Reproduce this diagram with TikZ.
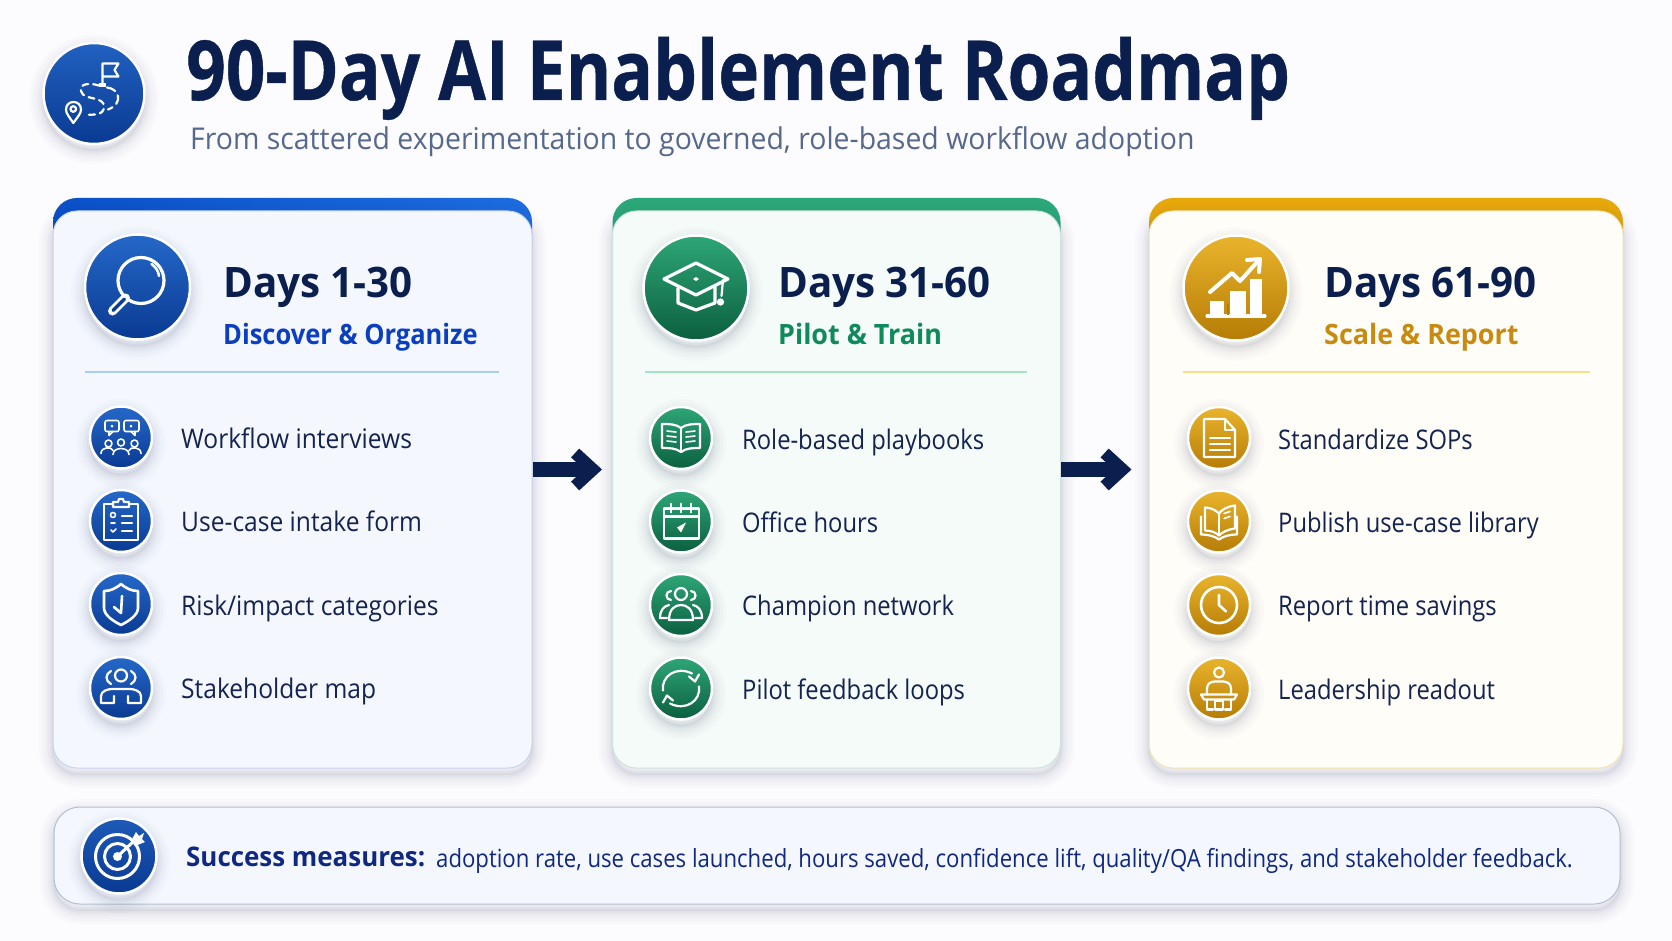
\documentclass[tikz,border=0pt]{standalone}
\usepackage{fontspec}
\usetikzlibrary{arrows.meta}
\setmainfont{Open Sans}
\newfontfamily\titleopen[FakeStretch=0.835,FakeBold=0.5]{Open Sans}
\newfontfamily\leadopen[FakeStretch=0.947]{Open Sans}
\newfontfamily\headopen[FakeStretch=0.96]{Open Sans}
\newfontfamily\blueopen[FakeStretch=0.91]{Open Sans}
\newfontfamily\bodyopen[FakeStretch=0.88]{Open Sans}
\newfontfamily\bandopen[FakeStretch=0.886]{Open Sans}

\definecolor{pagebg}{HTML}{FCFCFE}
\definecolor{inkdark}{HTML}{0B1F4F}
\definecolor{inktext}{HTML}{14234F}
\definecolor{subgrey}{HTML}{56698C}
\definecolor{blueedge}{HTML}{C6D4EC}
\definecolor{greenedge}{HTML}{CDE3DB}
\definecolor{goldedge}{HTML}{F3E2B2}
\definecolor{bluecard}{HTML}{F4F8FE}
\definecolor{greencard}{HTML}{F4FBF8}
\definecolor{goldcard}{HTML}{FEFDF8}
\definecolor{bluetop}{HTML}{2568C8}
\definecolor{bluelow}{HTML}{0A3A92}
\definecolor{greentop}{HTML}{2EA677}
\definecolor{greenlow}{HTML}{0B5F3F}
\definecolor{goldtop}{HTML}{E9B42C}
\definecolor{goldlow}{HTML}{B67C06}
\definecolor{bluetext}{HTML}{0B3FBF}
\definecolor{greentext}{HTML}{0F8A5A}
\definecolor{goldtext}{HTML}{C98A10}
\definecolor{navytext}{HTML}{10287F}
\definecolor{bluecapa}{HTML}{0A50C8}
\definecolor{bluecapb}{HTML}{1C6CE0}
\definecolor{greencap}{HTML}{2BA87A}
\definecolor{goldcap}{HTML}{E9A80A}
\definecolor{bluerule}{HTML}{A9CEF5}
\definecolor{greenrule}{HTML}{A5E3C5}
\definecolor{goldrule}{HTML}{FBDD8A}
\definecolor{casttint}{HTML}{33446E}

\tikzset{
  softcast/.style={
    preaction={draw=casttint,draw opacity=.02,line width=28pt,transform canvas={yshift=-6pt}},
    preaction={draw=casttint,draw opacity=.02,line width=22pt,transform canvas={yshift=-6pt}},
    preaction={draw=casttint,draw opacity=.025,line width=16pt,transform canvas={yshift=-6pt}},
    preaction={draw=casttint,draw opacity=.03,line width=11pt,transform canvas={yshift=-6pt}},
    preaction={draw=casttint,draw opacity=.04,line width=6pt,transform canvas={yshift=-6pt}},
    preaction={draw=casttint,draw opacity=.05,line width=2pt,transform canvas={yshift=-6pt}}},
  cardbody/.style={rectangle,rounded corners=24pt,inner sep=0pt,line width=1pt,softcast},
  cardcap/.style={rectangle,rounded corners=24pt,inner sep=0pt},
  ruleline/.style={rectangle,inner sep=0pt,minimum height=2.5pt},
  disc/.style={circle,draw=white,line width=2.5pt,inner sep=0pt,softcast},
  bigdisc/.style={disc,minimum size=105pt},
  itemdisc/.style={disc,minimum size=62pt},
  bluedisc/.style={top color=bluetop,bottom color=bluelow},
  greendisc/.style={top color=greentop,bottom color=greenlow},
  golddisc/.style={top color=goldtop,bottom color=goldlow},
  daystext/.style={anchor=base west,inner sep=0pt,text=inkdark,font=\headopen\bfseries\fontsize{42}{44}\selectfont},
  phasetext/.style={anchor=base west,inner sep=0pt,font=\headopen\bfseries\fontsize{28}{30}\selectfont},
  itemtext/.style={anchor=base west,inner sep=0pt,text=inktext,font=\bodyopen\fontsize{27}{30}\selectfont},
  blueitem/.style={itemtext,font=\blueopen\fontsize{27}{30}\selectfont},
  flowarrow/.style={draw=inkdark,line width=15pt,-{Straight Barb[length=18pt,width=33pt,line width=12pt]}},
  iconline/.style={draw=white,line width=2.2pt,line cap=round,line join=round},
  thinline/.style={iconline,line width=1.6pt},
  boldline/.style={iconline,line width=3.2pt},
  iconroute/.pic={
    \draw[iconline] (8.5,-8) -- (8.5,-30) -- (24.5,-30) -- (20.5,-23.5) -- (24.5,-17) -- (8.5,-17);
    \fill[white] (5,-10) rectangle (12,-6);
    \draw[iconline,dash pattern=on 6pt off 5pt] (5,-8) .. controls (-8,-12) and (-18,-8) .. (-11,1) .. controls (-5,6) and (10,4) .. (10,13) .. controls (10,22) and (0,21) .. (-9,21.5);
    \draw[iconline,dash pattern=on 9pt off 5pt] (13,-6) .. controls (25,-5) and (30,10) .. (14,16);
    \draw[iconline] (-20.7,29.5) .. controls (-25,23) and (-28,20) .. (-28,16) .. controls (-28,6) and (-13,6) .. (-13,16) .. controls (-13,20) and (-16,23) .. (-20.7,29.5) -- cycle;
    \draw[iconline] (-20.7,15.5) circle[radius=2.8];
  },
  iconlens/.pic={
    \draw[boldline] (3.5,-6.5) circle[radius=23];
    \draw[iconline,line width=2.5pt] (14,-23) .. controls (18,-20) and (21,-16) .. (21.5,-11);
    \draw[iconline,line width=9pt] (-12,11) -- (-25,24);
    \draw[draw=bluelow,line width=3.5pt,line cap=round] (-13,12) -- (-24.5,23.5);
  },
  iconcap/.pic={
    \draw[boldline] (0,-25) -- (32,-9) -- (0,7) -- (-32,-9) -- cycle;
    \draw[boldline] (-18,0) -- (-18,15) -- (0,22) -- (19,15) -- (19,-2);
    \fill[white] (0,-11) -- (3,-9) -- (0,-7) -- (-3,-9) -- cycle;
    \draw[iconline] (27,-8) -- (25.5,8);
    \draw[iconline,fill=white] (24.5,14) circle[radius=2.5];
  },
  iconchart/.pic={
    \draw[boldline] (-29,28) -- (29,28);
    \fill[white] (-26,13) rectangle (-12,27);
    \fill[white] (-6,3) rectangle (10,27);
    \fill[white] (14,-9) rectangle (26,27);
    \draw[draw=goldlow,line width=2pt] (-8,16) -- (-8,27);
    \draw[boldline,line width=4pt] (-26,4) -- (-4,-15) -- (4,-7) -- (23,-28);
    \draw[boldline,line width=4pt] (11,-28) -- (24,-29) -- (23,-16);
  },
  iconinterview/.pic={
    \draw[thinline,rounded corners=2pt] (-16,-17) rectangle (-2,-6);
    \draw[thinline] (-12,-6) -- (-12,-2) -- (-8,-6);
    \draw[thinline,rounded corners=2pt] (3,-17) rectangle (18,-6);
    \draw[thinline] (14,-6) -- (14,-2) -- (10,-6);
    \fill[white] (-9,-11.5) circle[radius=1.5];
    \fill[white] (10,-11.5) circle[radius=1.5];
    \draw[thinline] (-12.5,6) circle[radius=3.5];
    \draw[thinline] (0,5) circle[radius=3.5];
    \draw[thinline] (13.5,6) circle[radius=3.5];
    \draw[thinline] (-20,16) .. controls (-20,9) and (-9,9) .. (-8,13);
    \draw[thinline] (-8,17) .. controls (-8,9) and (8,9) .. (8,17);
    \draw[thinline] (8,13) .. controls (9,9) and (20,9) .. (20,16);
  },
  iconclip/.pic={
    \draw[iconline] (-8,-17) -- (-17,-17) -- (-17,19) -- (17,19) -- (17,-17) -- (8,-17);
    \draw[iconline] (-8,-14) -- (-8,-19) -- (-3,-19) -- (-2,-22) -- (2,-22) -- (3,-19) -- (8,-19) -- (8,-14) -- cycle;
    \draw[thinline] (-8,-6) circle[radius=2.5];
    \draw[thinline] (-10,2) -- (-6,2);
    \draw[thinline] (-10,9) -- (-8,11) -- (-5,8);
    \draw[iconline] (1,-5) -- (11,-5);
    \draw[iconline] (1,2) -- (11,2);
    \draw[iconline] (1,10) -- (11,10);
  },
  iconshield/.pic={
    \draw[boldline,line width=2.6pt] (0,-20) .. controls (-6,-15) and (-11,-13) .. (-17,-13) -- (-17,4) .. controls (-17,11) and (-8,17) .. (0,21) .. controls (8,17) and (17,11) .. (17,4) -- (17,-13) .. controls (11,-13) and (6,-15) .. (0,-20) -- cycle;
    \draw[iconline,line width=2.6pt] (-7,3) -- (0,9) -- (1,-8);
  },
  iconteam/.pic={
    \draw[iconline] (0,-12.5) circle[radius=6];
    \draw[iconline] (-10,-17) .. controls (-16,-14) and (-16,-7) .. (-10,-4);
    \draw[iconline] (10,-17) .. controls (16,-14) and (16,-7) .. (10,-4);
    \draw[iconline] (-7,8) -- (-7,15) -- (-20,15) -- (-20,8) .. controls (-20,3) and (-13,1) .. (-9,1) -- (9,1) .. controls (13,1) and (20,3) .. (20,8) -- (20,15) -- (7,15) -- (7,8);
  },
  iconchampion/.pic={
    \draw[iconline] (0,-11) circle[radius=6];
    \draw[iconline] (-10,-14) .. controls (-16,-14) and (-16,-5) .. (-10,-5);
    \draw[iconline] (10,-14) .. controls (16,-14) and (16,-5) .. (10,-5);
    \draw[iconline] (-12,15) .. controls (-12,4) and (-6,0) .. (0,0) .. controls (6,0) and (12,4) .. (12,15) -- cycle;
    \draw[iconline] (-12,0) .. controls (-17,1) and (-21,5) .. (-21,13) -- (-14,13);
    \draw[iconline] (12,0) .. controls (17,1) and (21,5) .. (21,13) -- (14,13);
  },
  iconbook/.pic={
    \draw[iconline] (0,-10) .. controls (-5,-14) and (-12,-14) .. (-19,-14) -- (-19,10) .. controls (-12,10) and (-5,10) .. (0,14) .. controls (5,10) and (12,10) .. (19,10) -- (19,-14) .. controls (12,-14) and (5,-14) .. (0,-10) -- cycle;
    \draw[iconline] (0,-10) -- (0,14);
    \draw[thinline] (-14,-7) -- (-5,-6);
    \draw[thinline] (-14,-2) -- (-5,-1);
    \draw[thinline] (-14,3) -- (-5,4);
    \draw[thinline] (14,-7) -- (5,-6);
    \draw[thinline] (14,-2) -- (5,-1);
    \draw[thinline] (14,3) -- (5,4);
  },
  iconcalendar/.pic={
    \draw[iconline] (-17,-13) rectangle (18,17);
    \draw[iconline] (-17,-5) -- (18,-5);
    \draw[thinline] (-10,-18) -- (-10,-9);
    \draw[thinline] (0,-18) -- (0,-9);
    \draw[thinline] (10,-18) -- (10,-9);
    \fill[white] (-4,6) -- (5,1) -- (2,7) -- (0,11) -- cycle;
  },
  iconcircle/.pic={
    \draw[iconline] (-18,2) .. controls (-20,-12) and (-5,-23) .. (11,-15);
    \draw[iconline] (18,-2) .. controls (20,12) and (5,23) .. (-11,15);
    \draw[iconline] (18,-14) -- (14,-7) -- (8,-12);
    \draw[iconline] (-18,14) -- (-14,7) -- (-8,12);
  },
  iconpage/.pic={
    \draw[iconline] (-15,-19) -- (6,-19) -- (16,-8) -- (16,19) -- (-15,19) -- cycle;
    \draw[iconline] (6,-19) -- (6,-8) -- (16,-8);
    \draw[iconline] (-9,0) -- (11,0);
    \draw[iconline] (-9,6) -- (11,6);
    \draw[iconline] (-9,12) -- (11,12);
  },
  iconlibrary/.pic={
    \draw[iconline] (-14,-14) -- (-14,9) .. controls (-8,9) and (-3,11) .. (0,14) .. controls (3,11) and (8,8) .. (16,7) -- (16,-16) .. controls (8,-15) and (3,-12) .. (0,-8) .. controls (-3,-11) and (-8,-14) .. (-14,-14) -- cycle;
    \draw[iconline] (0,-8) -- (0,14);
    \draw[iconline] (-18,-5) -- (-18,13) .. controls (-10,13) and (-4,15) .. (0,18) .. controls (4,15) and (10,13) .. (18,13) -- (18,-5);
    \draw[thinline] (5,-8) -- (11,-10);
    \draw[thinline] (5,-3) -- (11,-5);
  },
  iconclock/.pic={
    \draw[iconline,line width=2.6pt] (0,0) circle[radius=18];
    \draw[iconline,line width=2.6pt] (0,-10) -- (0,0) -- (7,6.5);
  },
  iconspeaker/.pic={
    \draw[iconline] (0,-16) circle[radius=5];
    \draw[iconline] (-12,6) -- (-12,0) .. controls (-12,-5) and (-8,-7) .. (-4,-7) -- (4,-7) .. controls (8,-7) and (12,-5) .. (12,0) -- (12,6);
    \draw[iconline] (-18,6) -- (18,6) -- (15,11) -- (-15,11) -- cycle;
    \draw[iconline] (-12,11) -- (-12,21) -- (-6,21);
    \draw[iconline] (12,11) -- (12,21) -- (6,21);
    \draw[iconline] (-4,12) rectangle (4,21);
  },
  icontarget/.pic={
    \draw[boldline,line width=3pt] (-1.5,0.5) circle[radius=22];
    \draw[boldline,line width=3pt] (-1.5,0.5) circle[radius=13];
    \fill[white] (-1.5,0.5) circle[radius=4.5];
    \draw[boldline,line width=3pt] (-1.5,0.5) -- (17,-17);
    \fill[white] (12,-15) -- (17,-24) -- (20,-20) -- (25,-23) -- (23,-17) -- (26,-14) -- (16,-10) -- cycle;
  }
}

\begin{document}
\begin{tikzpicture}[x=1pt,y=-1pt]
    \useasboundingbox (0,0) rectangle (1672,941);
    \fill[pagebg] (0,0) rectangle (1672,941);

    % heading
    \node[disc,top color=bluetop!85!bluelow,bottom color=bluelow,minimum size=101pt] (roadicon) at (94,93.5) {};
    \pic at (roadicon) {iconroute};
    \node[anchor=base west,inner sep=0pt,text=inkdark,font=\titleopen\bfseries\fontsize{83}{90}\selectfont] (title) at (186,100) {90-Day AI Enablement Roadmap};
    \node[anchor=base west,inner sep=0pt,text=subgrey,font=\leadopen\fontsize{30}{32}\selectfont] (subtitle) at (190,150) {From scattered experimentation to governed, role-based workflow adoption};

    % three phases
    \node[cardcap,left color=bluecapa,right color=bluecapb,minimum width=479pt,minimum height=70pt] (cap1) at (292.5,233) {};
    \node[cardcap,fill=greencap,minimum width=448pt,minimum height=70pt] (cap2) at (836.5,233) {};
    \node[cardcap,fill=goldcap,minimum width=474pt,minimum height=70pt] (cap3) at (1386,233) {};

    \node[cardbody,draw=blueedge,fill=bluecard,minimum width=479pt,minimum height=557pt] (card1) at (292.5,489.5) {};
    \node[cardbody,draw=greenedge,fill=greencard,minimum width=448pt,minimum height=557pt] (card2) at (836.5,489.5) {};
    \node[cardbody,draw=goldedge,fill=goldcard,minimum width=474pt,minimum height=557pt] (card3) at (1386,489.5) {};

    \draw[flowarrow,shorten >=10pt] ([yshift=20pt]card1.east) -- ([yshift=20pt]card2.west);
    \draw[flowarrow,shorten >=17pt] ([yshift=20pt]card2.east) -- ([yshift=20pt]card3.west);

    \node[bigdisc,bluedisc] (phase1) at (137.5,287) {};
    \node[bigdisc,greendisc] (phase2) at (696,288) {};
    \node[bigdisc,golddisc] (phase3) at (1236,288) {};
    \pic at (phase1) {iconlens};
    \pic at (phase2) {iconcap};
    \pic at (phase3) {iconchart};

    \node[daystext] (days1) at (223,297) {Days 1-30};
    \node[daystext] (days2) at (778,297) {Days 31-60};
    \node[daystext] (days3) at (1324,297) {Days 61-90};
    \node[phasetext,text=bluetext,font=\blueopen\bfseries\fontsize{28}{30}\selectfont] (name1) at (223,344) {Discover \& Organize};
    \node[phasetext,text=greentext] (name2) at (778,344) {Pilot \& Train};
    \node[phasetext,text=goldtext] (name3) at (1324,344) {Scale \& Report};

    \node[ruleline,fill=bluerule,minimum width=414pt] (rule1) at (292,372) {};
    \node[ruleline,fill=greenrule,minimum width=382pt] (rule2) at (836,372) {};
    \node[ruleline,fill=goldrule,minimum width=407pt] (rule3) at (1386.5,372) {};

    % days 1-30
    \node[itemdisc,bluedisc] (blue1) at (121,437.5) {};
    \node[itemdisc,bluedisc] (blue2) at (121,521) {};
    \node[itemdisc,bluedisc] (blue3) at (121,604) {};
    \node[itemdisc,bluedisc] (blue4) at (121,688) {};
    \pic at (blue1) {iconinterview};
    \pic at (blue2) {iconclip};
    \pic at (blue3) {iconshield};
    \pic at (blue4) {iconteam};
    \node[blueitem] (bluetext1) at (181,448) {Workflow interviews};
    \node[blueitem] (bluetext2) at (181,531) {Use-case intake form};
    \node[blueitem] (bluetext3) at (181,615) {Risk/impact categories};
    \node[blueitem] (bluetext4) at (181,698) {Stakeholder map};

    % days 31-60
    \node[itemdisc,greendisc] (green1) at (681,438) {};
    \node[itemdisc,greendisc] (green2) at (681,521.5) {};
    \node[itemdisc,greendisc] (green3) at (681,605) {};
    \node[itemdisc,greendisc] (green4) at (681,688.5) {};
    \pic at (green1) {iconbook};
    \pic at (green2) {iconcalendar};
    \pic at (green3) {iconchampion};
    \pic at (green4) {iconcircle};
    \node[itemtext] (greentext1) at (742,449) {Role-based playbooks};
    \node[itemtext] (greentext2) at (742,532) {Office hours};
    \node[itemtext] (greentext3) at (742,615) {Champion network};
    \node[itemtext] (greentext4) at (742,699) {Pilot feedback loops};

    % days 61-90
    \node[itemdisc,golddisc] (gold1) at (1219,438) {};
    \node[itemdisc,golddisc] (gold2) at (1219,521.5) {};
    \node[itemdisc,golddisc] (gold3) at (1219,605) {};
    \node[itemdisc,golddisc] (gold4) at (1219,688.5) {};
    \pic at (gold1) {iconpage};
    \pic at (gold2) {iconlibrary};
    \pic at (gold3) {iconclock};
    \pic at (gold4) {iconspeaker};
    \node[itemtext] (goldtext1) at (1278,449) {Standardize SOPs};
    \node[itemtext] (goldtext2) at (1278,532) {Publish use-case library};
    \node[itemtext] (goldtext3) at (1278,615) {Report time savings};
    \node[itemtext] (goldtext4) at (1278,699) {Leadership readout};

    % success band
    \node[cardbody,draw=blueedge!90!black,fill=bluecard,rounded corners=26pt,minimum width=1566pt,minimum height=97pt] (band) at (837,855.5) {};
    \node[disc,top color=bluetop!70!bluelow,bottom color=bluelow,minimum size=75pt] (goalicon) at (119,856) {};
    \pic at (goalicon) {icontarget};
    \node[anchor=base west,inner sep=0pt,text=navytext,font=\headopen\bfseries\fontsize{27}{30}\selectfont] (bandhead) at (186,866) {Success measures:};
    \node[anchor=base west,inner sep=0pt,text=navytext,font=\bandopen\fontsize{25}{30}\selectfont] (bandtext) at (436,867) {adoption rate, use cases launched, hours saved, confidence lift, quality/QA findings, and stakeholder feedback.};
\end{tikzpicture}
\end{document}
